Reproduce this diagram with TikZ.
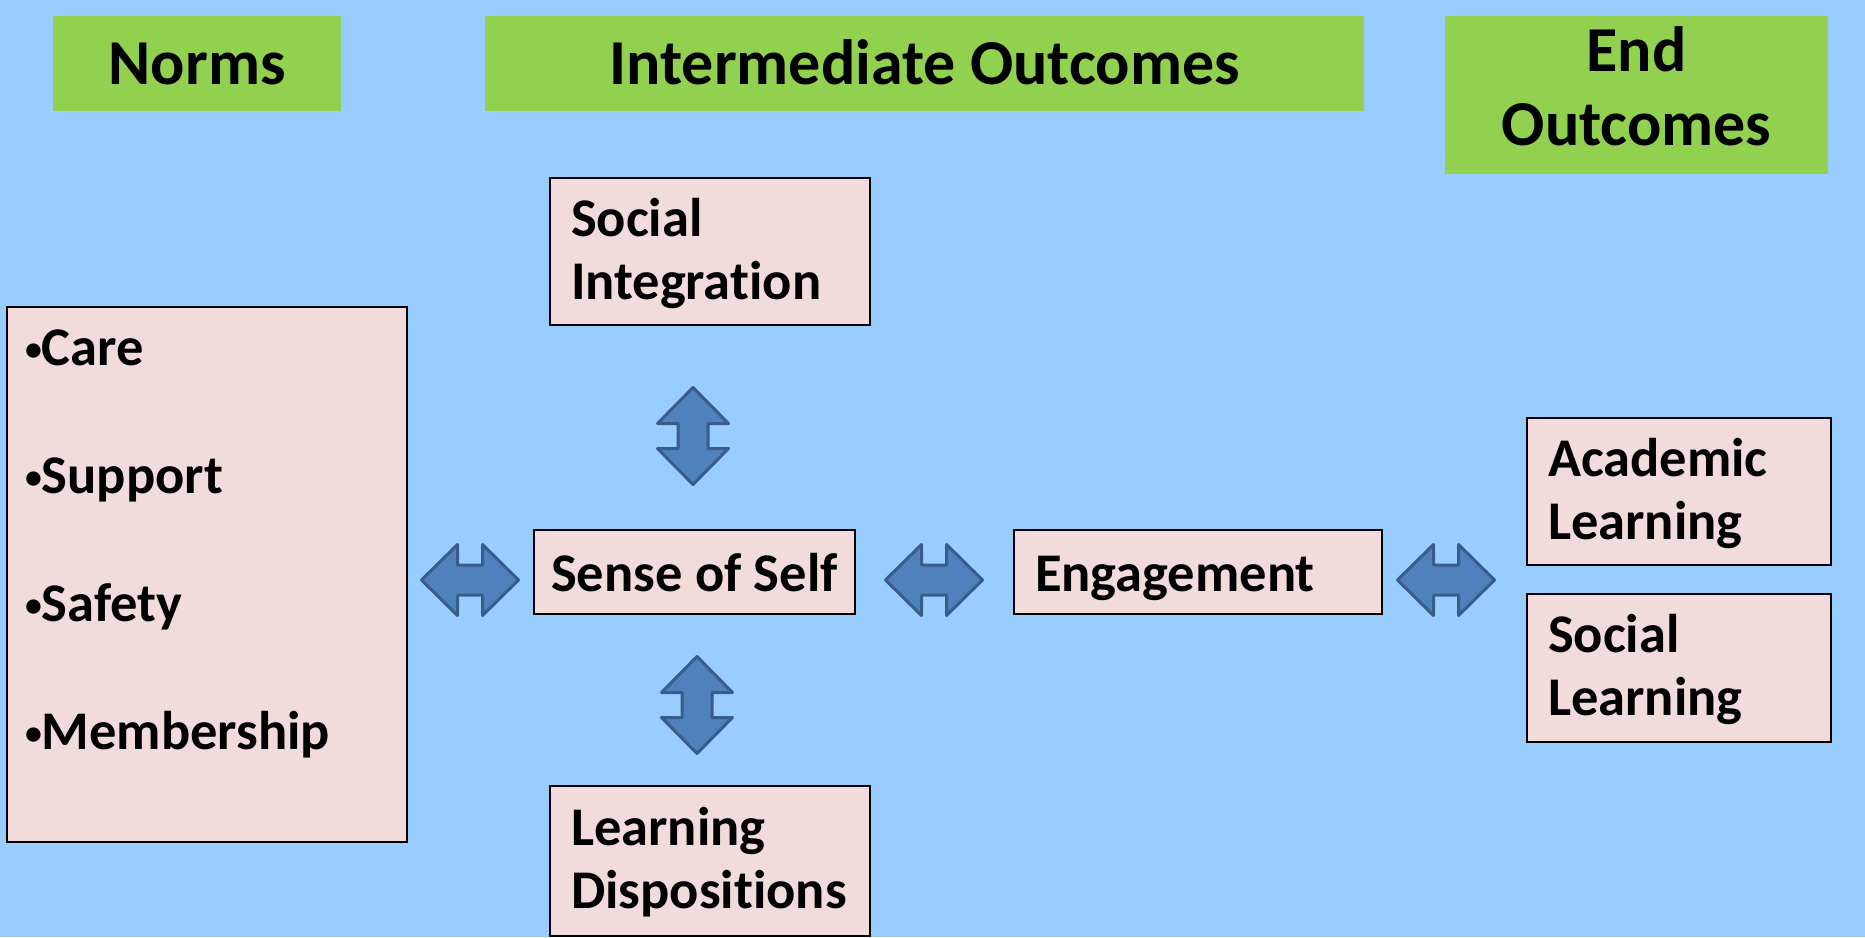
\documentclass[tikz,border=0pt]{standalone}
\usepackage{graphicx}
\usepackage{fontspec}
\setmainfont{Carlito}[Ligatures=NoCommon]
\definecolor{bg}{HTML}{99CCFF}
\definecolor{hdr}{HTML}{92D050}
\definecolor{boxfill}{HTML}{F2DCDB}
\definecolor{arrfill}{HTML}{4F81BD}
\definecolor{arrline}{HTML}{385D8A}
\newcommand\mybul{\raisebox{0.08em}{\scalebox{0.62}{\textbullet}}}
\begin{document}
\begin{tikzpicture}[x=1pt,y=-1pt,
  header/.style={fill=hdr, inner sep=0pt, font=\fontsize{64}{74}\selectfont\bfseries, align=center, anchor=north west, text height=41pt, text depth=0pt},
  box/.style={draw=black, line width=2pt, fill=boxfill, inner xsep=21pt, inner ysep=0pt, font=\fontsize{54.5}{63}\selectfont\bfseries, align=left, anchor=north west},
  twoline/.style={text height=38pt, text depth=69pt},
  oneline/.style={text height=38pt, text depth=0pt},
  arrstyle/.style={draw=arrline, fill=arrfill, line width=3pt, line join=round},
  dblarrow/.pic={\draw[arrstyle] (-48.5,0) -- (-12.5,-35.5) -- (-12.5,-15) -- (12.5,-15) -- (12.5,-35.5) -- (48.5,0) -- (12.5,35.5) -- (12.5,15) -- (-12.5,15) -- (-12.5,35.5) -- cycle;}
]
\fill[bg] (0,0) rectangle (1865,937);
\useasboundingbox (0,0) rectangle (1865,937);

\node[header, minimum width=288pt, minimum height=95pt] (hnorms) at (53,16) {Norms};
\node[header, minimum width=879pt, minimum height=95pt] (hinter) at (485,16) {Intermediate Outcomes};
\node[header, text width=383pt, minimum height=158pt, text depth=89pt] (hend) at (1445,16) {End\\Outcomes};

\node[box, inner xsep=18pt, text width=364pt, minimum height=535pt, text height=38pt, text depth=457pt,
      font=\fontsize{54.5}{128}\selectfont\bfseries] (norms) at (6,306)
  {\mybul Care\\\mybul Support\\\mybul Safety\\\mybul Membership};

\node[box, twoline, text width=278pt, minimum height=147pt] (soc) at (549,177) {Social\\Integration};
\node[box, oneline, inner xsep=0pt, minimum width=321pt, minimum height=84pt] (self) at (533,529) {Sense of Self};
\node[box, oneline, text width=326pt, minimum height=84pt] (eng) at (1013,529) {Engagement};
\node[box, twoline, text width=278pt, minimum height=150pt] (disp) at (549,785) {Learning\\Dispositions};
\node[box, twoline, text width=262pt, minimum height=147pt] (acad) at (1526,417) {Academic\\Learning};
\node[box, twoline, text width=262pt, minimum height=148pt] (socl) at (1526,593) {Social\\Learning};

\pic (a1) at (470,580) {dblarrow};
\pic (a2) at (934,580) {dblarrow};
\pic (a3) at (1446,580) {dblarrow};
\pic[rotate=90] (v1) at (693,436) {dblarrow};
\pic[rotate=90] (v2) at (697,705) {dblarrow};
\end{tikzpicture}
\end{document}
